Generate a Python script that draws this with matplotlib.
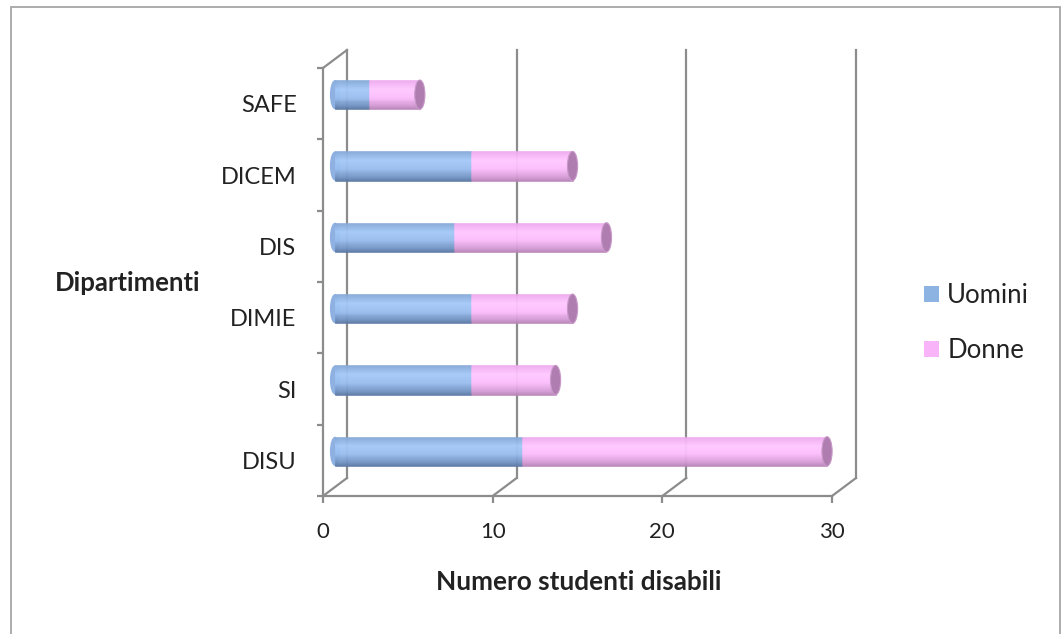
import numpy as np
import matplotlib
matplotlib.use("Agg")
import matplotlib.pyplot as plt
from matplotlib.patches import Ellipse, Rectangle, Patch
from matplotlib.transforms import ScaledTranslation

plt.rcParams['font.family'] = ['Lato', 'DejaVu Sans']

categories = ['DISU', 'SI', 'DIMIE', 'DIS', 'DICEM', 'SAFE']
uomini = [11, 8, 8, 7, 8, 2]
donne = [18, 5, 6, 9, 6, 3]
x_ticks = [0, 10, 20, 30]

GRAY = '#8c8c8c'
TXT = '#222222'

fig = plt.figure(figsize=(10.64, 6.34), dpi=100)
ax = fig.add_axes([323/1064, (634-496)/634, (832-323)/1064, (496-68)/634])
ax.set_xlim(0, 30)
ax.set_ylim(0, len(categories))

# 3D depth offsets (back wall and mid-depth where the cylinders sit)
back = ax.transData + ScaledTranslation(0.24, 0.18, fig.dpi_scale_trans)
mid = ax.transData + ScaledTranslation(0.12, 0.09, fig.dpi_scale_trans)
bx = 24 / (ax.bbox.width / 30)
by = 18 / (ax.bbox.height / len(categories))

# outer chart border
fig.add_artist(Rectangle((11/1064, -0.05), (1060-11)/1064, 1.05 - 7/634,
                         transform=fig.transFigure, fill=False,
                         edgecolor='#a6a6a6', lw=1.3))

# back wall gridlines and floor diagonals
for xv in x_ticks:
    ax.plot([xv, xv], [0, len(categories)], color=GRAY, lw=1.6,
            transform=back, clip_on=False, zorder=1)
    ax.plot([xv, xv + bx], [0, by], color=GRAY, lw=1.6, clip_on=False, zorder=1)
ax.plot([0, bx], [len(categories), len(categories) + by], color=GRAY, lw=1.6,
        clip_on=False, zorder=1)

ypos = np.arange(len(categories)) + 0.5
h = 0.41
n = 30


def shade(stops):
    t = np.linspace(0, 1, n)
    pos = [s[0] for s in stops]
    cols = np.array([matplotlib.colors.to_rgb(s[1]) for s in stops])
    return [tuple(np.interp(tt, pos, cols[:, c]) for c in range(3)) for tt in t]


blue_cols = shade([(0, '#86a9d8'), (0.3, '#a4c9f8'), (0.6, '#98bdee'),
                   (0.9, '#6f90c0'), (1, '#5c7aa6')])
pink_cols = shade([(0, '#eeaaee'), (0.3, '#ffc8ff'), (0.6, '#fbbdfb'),
                   (0.9, '#d298d2'), (1, '#b985b9')])

# rounded hidden left end
for yc in ypos:
    ax.add_patch(Ellipse((0, yc), 0.6, h, transform=mid, facecolor='#8eb1e2',
                         edgecolor='none', clip_on=False, zorder=2))

for k in range(n):
    yk = ypos + h/2 - (k + 0.5) * h / n
    b1 = ax.barh(yk, uomini, height=h/n, color=blue_cols[k],
                 edgecolor=blue_cols[k], lw=0.4, zorder=3)
    b2 = ax.barh(yk, donne, left=uomini, height=h/n, color=pink_cols[k],
                 edgecolor=pink_cols[k], lw=0.4, zorder=3)
    for p in list(b1) + list(b2):
        p.set_transform(mid)
        p.set_clip_on(False)

# end caps
for yc, u, d in zip(ypos, uomini, donne):
    ax.add_patch(Ellipse((u + d, yc), 0.6, h, transform=mid, facecolor='#b07db0',
                         edgecolor='#c898c8', lw=0.8, clip_on=False, zorder=4))

# front axes
for s in ['top', 'right']:
    ax.spines[s].set_visible(False)
for s in ['left', 'bottom']:
    ax.spines[s].set_color(GRAY)
    ax.spines[s].set_linewidth(1.6)

ax.set_yticks(np.arange(len(categories) + 1))
ax.set_yticklabels([])
ax.set_yticks(ypos, categories, minor=True)
ax.tick_params(axis='y', which='major', length=4.5, width=1.6, color=GRAY)
ax.tick_params(axis='y', which='minor', length=0, pad=19, labelsize=17,
               labelcolor=TXT)
ax.set_xticks(x_ticks)
ax.tick_params(axis='x', length=5, width=1.6, color=GRAY, pad=14,
               labelsize=16, labelcolor=TXT)
ax.patch.set_visible(False)

fig.text(55/1064, 1 - 283/634, 'Dipartimenti', fontsize=18.5, fontweight='bold',
         color=TXT, ha='left', va='center')
fig.text(579/1064, 1 - 582/634, 'Numero studenti disabili', fontsize=18.8,
         fontweight='bold', color=TXT, ha='center', va='center')

handles = [Patch(facecolor='#8db3e2', edgecolor='none'),
           Patch(facecolor='#f9b3f9', edgecolor='none')]
fig.legend(handles, ['Uomini', 'Donne'], loc='center left',
           bbox_to_anchor=(901/1064, 1 - 323/634), frameon=False, fontsize=18.5,
           handlelength=0.58, handleheight=0.58, handletextpad=0.32,
           labelspacing=1.2, labelcolor=TXT)

fig.savefig('out.png', dpi=100)
